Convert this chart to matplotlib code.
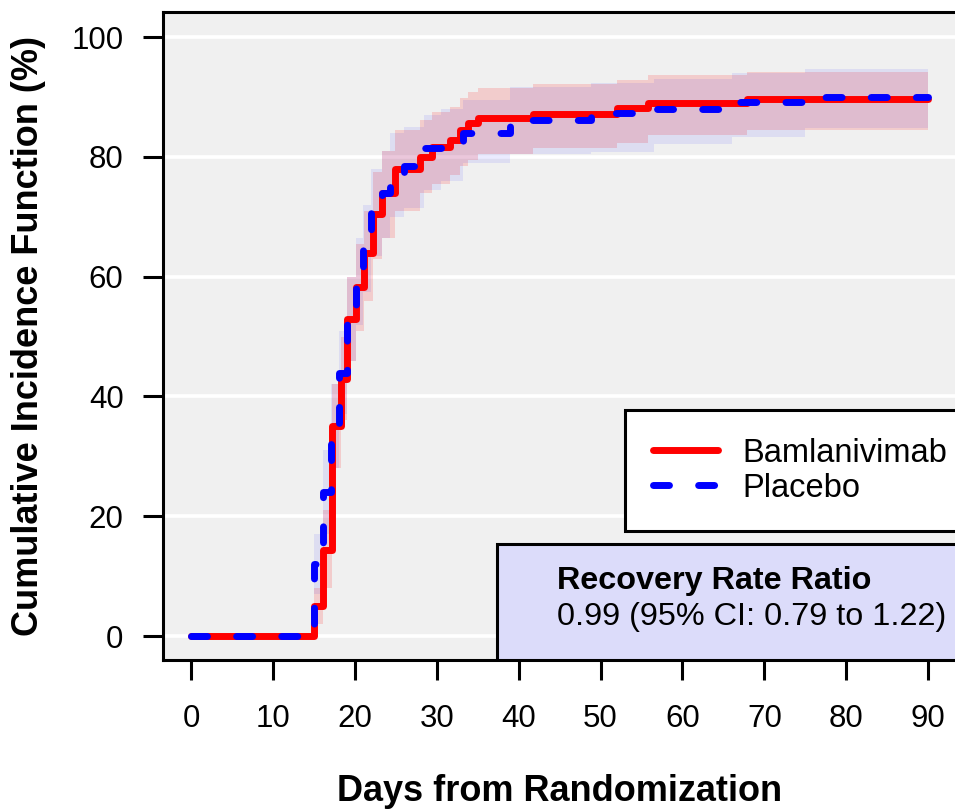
import matplotlib
matplotlib.use("Agg")
import matplotlib.pyplot as plt
from matplotlib.patches import Rectangle
from matplotlib.lines import Line2D

plt.rcParams['font.family'] = ['Liberation Sans', 'DejaVu Sans']

# Bamlanivimab arm: step times (days), cumulative incidence (%) and 95% band
bam_days = [0, 15.0, 16.1, 17.2, 18.3, 19.1, 20.1, 21.1, 22.2, 23.3, 24.9, 28.0,
            29.4, 31.6, 32.8, 33.8, 35.0, 41.8, 52.0, 55.8, 67.9, 90.0]
bam_cif = [0, 5, 14.4, 35, 43, 53, 58.3, 64, 70.5, 74, 78, 80,
           81.6, 82.8, 84.5, 85.6, 86.5, 87.2, 88.1, 89.0, 89.6, 89.6]
bam_lo = [0, 2, 8, 28, 36, 46, 51, 56, 63, 66.5, 71, 74,
          75.5, 77, 78.5, 79.5, 80.5, 81.5, 82.3, 83.6, 84.5, 84.6]
bam_hi = [0, 8, 21, 42, 50, 60, 65.5, 71, 77.5, 81, 84.5, 86.1,
          87.5, 88.3, 89.8, 90.8, 91.5, 92.1, 92.8, 93.7, 94.2, 94.2]

# Placebo arm
pbo_days = [0, 15.0, 16.1, 17.1, 18.1, 19.1, 20.1, 21.0, 22.0, 23.3, 24.3, 26.0,
            28.5, 30.5, 33.2, 38.9, 48.8, 56.5, 66.0, 75.0, 90.0]
pbo_cif = [0, 12, 24, 35, 44, 53, 59.5, 65, 71, 74, 77.5, 78.5,
           81.5, 82.3, 84, 86.2, 87.3, 88.0, 89.1, 90.0, 90.0]
pbo_lo = [0, 7, 17, 28, 37, 46, 52, 57.5, 63.5, 66.5, 70, 71.5,
          74.5, 76, 79, 80.5, 80.8, 82.2, 83.4, 84.9, 84.9]
pbo_hi = [0, 17, 31, 42, 51, 60, 66.5, 72, 78, 81, 84, 85,
          87, 88, 89.5, 91.7, 92.3, 93, 94, 94.7, 94.7]

x_ticks = [0, 10, 20, 30, 40, 50, 60, 70, 80, 90]
y_ticks = [0, 20, 40, 60, 80, 100]

fig = plt.figure(figsize=(9.55, 8.1), dpi=100)
ax = fig.add_axes([0.1707, 0.1852, 0.8613, 0.8])
ax.set_facecolor('#f0f0f0')

ax.fill_between(bam_days, bam_lo, bam_hi, step='post', color='red', alpha=0.15, lw=0)
ax.fill_between(pbo_days, pbo_lo, pbo_hi, step='post', color='blue', alpha=0.08, lw=0)

ax.step(bam_days, bam_cif, where='post', color='red', lw=5,
        solid_joinstyle='round', solid_capstyle='round', zorder=3)
ax.step(pbo_days, pbo_cif, where='post', color='blue', lw=5, linestyle=(0, (2.3, 4.2)),
        dash_capstyle='round', dash_joinstyle='round', zorder=4)

ax.set_xlim(-3.42, 97.0)
ax.set_ylim(-4.0, 104.2)
ax.set_xticks(x_ticks)
ax.set_yticks(y_ticks)
ax.yaxis.grid(True, color='white', lw=2.6)
ax.set_axisbelow(True)

for side in ['left', 'top', 'bottom', 'right']:
    ax.spines[side].set_linewidth(2.2)
ax.tick_params(axis='both', length=14.4, width=2.2, labelsize=22.5)
ax.tick_params(axis='y', pad=14)
ax.tick_params(axis='x', pad=17)

ax.set_xlabel("Days from Randomization", fontsize=26, fontweight='bold')
ax.set_ylabel("Cumulative Incidence Function (%)", fontsize=26, fontweight='bold')
ax.xaxis.set_label_coords((559.5 - 163) / 822.5, -(801 - 660) / 648)
ax.yaxis.set_label_coords(-(163 - 46) / 822.5, (660 - 336) / 648)
ax.xaxis.label.set_va('baseline')

# recovery rate ratio box
ax.add_patch(Rectangle((37.4, -4.0), 70, 19.4, facecolor='#dcdcfa',
                       edgecolor='black', lw=2.2, zorder=5))
ax.text(44.7, 9.2, "Recovery Rate Ratio", fontsize=23.3, fontweight='bold',
        va='center', ha='left', zorder=6)
ax.text(44.7, 3.2, "0.99 (95% CI: 0.79 to 1.22)", fontsize=23.3,
        va='center', ha='left', zorder=6)

handles = [Line2D([], [], color='red', lw=5, solid_capstyle='round'),
           Line2D([], [], color='blue', lw=5, linestyle=(0, (2.3, 4.2)),
                  dash_capstyle='round')]
leg = ax.legend(handles, ["Bamlanivimab", "Placebo"], loc='upper left',
                bbox_to_anchor=((625 - 163) / 822.5, (660 - 410) / 648),
                borderaxespad=0, fancybox=False, framealpha=1, edgecolor='black',
                fontsize=23.5, handlelength=2.0, handletextpad=0.75,
                labelspacing=0.12, borderpad=0.85)
leg.get_frame().set_linewidth(2.2)
leg.set_zorder(7)

fig.savefig("out.png", dpi=100)
